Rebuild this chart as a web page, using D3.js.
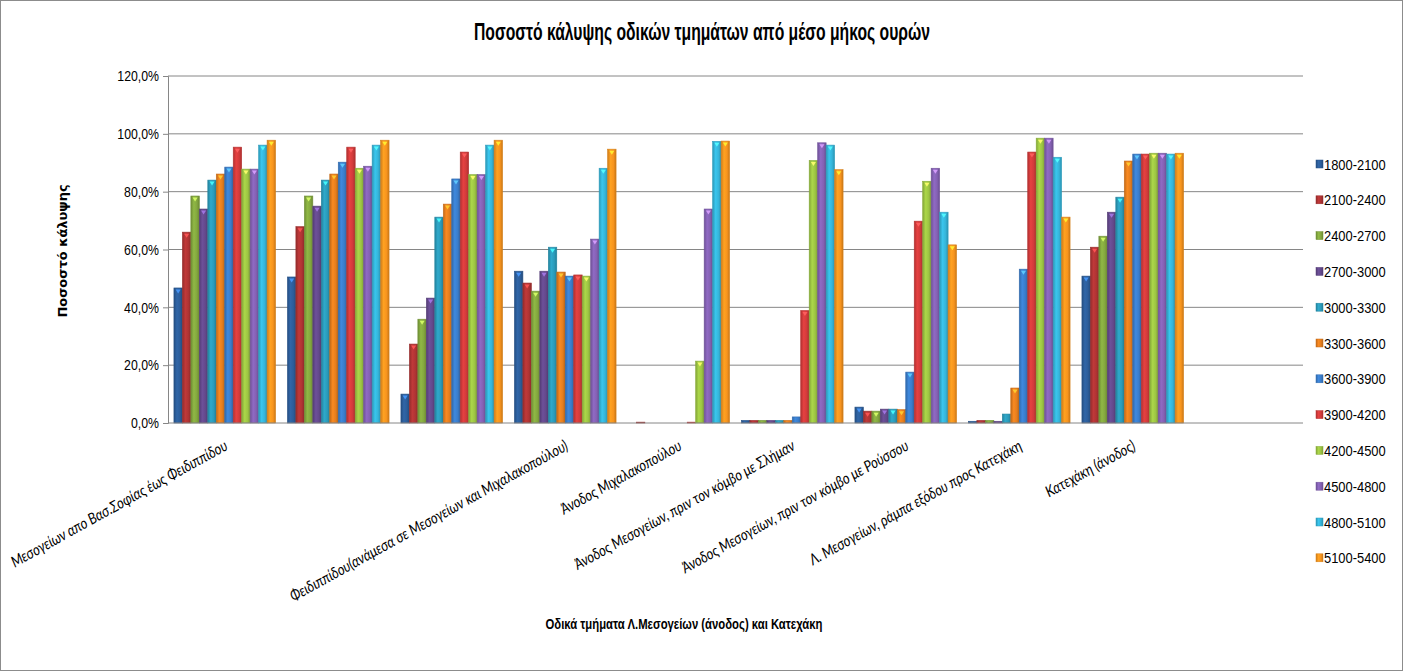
<!DOCTYPE html>
<html><head><meta charset="utf-8">
<script src="https://cdn.jsdelivr.net/npm/d3@7/dist/d3.min.js"></script>
<style>
body{margin:0;background:#fff;}
svg{display:block;}
.narrow{font-family:"Liberation Sans Narrow","Arial Narrow","Liberation Sans",Arial,sans-serif;}
</style></head><body>
<svg id="chart" width="1403" height="671"></svg>
<script>
const categories = [
  "Μεσογείων απο Βασ.Σοφίας έως Φειδιππίδου",
  "",
  "",
  "Φειδιππίδου(ανάμεσα σε Μεσογείων και Μιχαλακοπούλου)",
  "Άνοδος Μιχαλακοπούλου",
  "Άνοδος Μεσογείων, πριν τον κόμβο με Σλήμαν",
  "Άνοδος Μεσογείων, πριν τον κόμβο με Ρούσσου",
  "Λ. Μεσογείων, ράμπα εξόδου προς Κατεχάκη",
  "Κατεχάκη (άνοδος)",
  ""
];
const seriesNames = ["1800-2100","2100-2400","2400-2700","2700-3000","3000-3300","3300-3600","3600-3900","3900-4200","4200-4500","4500-4800","4800-5100","5100-5400"];
// values per category (percent), one entry per series
const v1 = [46.7,66.0,78.5,74.0,84.0,86.1,88.5,95.4,87.8,87.8,96.1,97.8];
const v2 = [50.5,67.9,78.5,75.0,84.0,86.1,90.2,95.4,88.1,88.8,96.1,97.8];
const v3 = [10.0,27.3,35.9,43.2,71.2,75.7,84.4,93.7,85.9,85.9,96.1,97.8];
const v4 = [52.5,48.4,45.6,52.5,60.8,52.2,50.8,51.2,50.8,63.6,88.1,94.7];
const v5 = [0,0.3,0,0,0,0,0,0.3,21.4,74.0,97.4,97.5];
const v6 = [0.9,0.9,0.9,0.9,0.9,0.9,2.1,38.9,90.8,96.9,96.1,87.6];
const v7 = [5.5,4.1,4.1,4.8,4.8,4.6,17.6,69.8,83.6,88.1,72.9,61.6];
const v8 = [0.6,0.9,0.9,0.6,3.1,12.1,53.2,93.7,98.5,98.5,91.9,71.2];
const v9 = [50.8,60.8,64.6,72.9,78.1,90.6,93.0,93.0,93.3,93.3,93.0,93.3];
const v10 = [];
const valuesByCategory = [v1,v2,v3,v4,v5,v6,v7,v8,v9,v10];
const yTicks = [0,20,40,60,80,100,120];
const colors = ["#2C5D9A","#B03434","#84A83F","#64498C","#2B9BBA","#E57E1E","#3A7DCB","#D23B3B","#9DC543","#8461B3","#35B5DA","#F7941E"];

const svg = d3.select("#chart");
const W = 1403, H = 671;
svg.append("rect").attr("x",0.5).attr("y",0.5).attr("width",W-1).attr("height",H-1)
  .attr("fill","#fff").attr("stroke","#8c8c8c").attr("stroke-width",1);

// condense helper: squeeze text horizontally by a factor
function condense(sel, f){
  sel.each(function(){
    const L = this.getComputedTextLength();
    d3.select(this).attr("textLength",L*f).attr("lengthAdjust","spacingAndGlyphs");
  });
}

const pLeft = 168, pRight = 1303, pTop = 76, pBottom = 423;
const x0 = d3.scaleBand().domain(d3.range(categories.length)).range([pLeft,pRight]).padding(0);
const bw = x0.bandwidth();
const barW = bw/13.4;
const x1 = d3.scaleBand().domain(seriesNames).range([0.7*barW, bw-0.7*barW]).padding(0);
const y = d3.scaleLinear().domain([0,120]).range([pBottom,pTop]);

// gradients
const defs = svg.append("defs");
colors.forEach((c,i)=>{
  const g = defs.append("linearGradient").attr("id","g"+i).attr("x1","0").attr("x2","1").attr("y1","0").attr("y2","0");
  const base = d3.color(c);
  g.append("stop").attr("offset","0").attr("stop-color",base.darker(0.5));
  g.append("stop").attr("offset","0.35").attr("stop-color",base.brighter(0.25));
  g.append("stop").attr("offset","0.7").attr("stop-color",base);
  g.append("stop").attr("offset","1").attr("stop-color",base.darker(0.6));
});

// gridlines
svg.append("g").selectAll("line").data(yTicks.filter(d=>d>0)).join("line")
  .attr("x1",pLeft).attr("x2",pRight).attr("y1",d=>y(d)).attr("y2",d=>y(d))
  .attr("stroke","#868686").attr("stroke-width",1);

// y axis
const yAxis = d3.axisLeft(y).tickValues(yTicks).tickSize(5).tickFormat(d=>d.toFixed(1).replace(".",",")+"%");
const ya = svg.append("g").attr("transform",`translate(${pLeft},0)`).call(yAxis);
ya.select(".domain").attr("stroke","#868686");
ya.selectAll(".tick line").attr("stroke","#868686");
ya.selectAll("text").attr("class","narrow").attr("font-size",15).attr("fill","#000").attr("x",-9).attr("font-family",null)
  .call(condense,0.82);

// bars
const groups = svg.append("g").selectAll("g").data(valuesByCategory).join("g")
  .attr("transform",(d,i)=>`translate(${x0(i)},0)`);
groups.selectAll("rect").data(d=>d.map((v,j)=>({v,j}))).join("rect")
  .attr("x",d=>x1(seriesNames[d.j])).attr("width",x1.bandwidth())
  .attr("y",d=>y(d.v)).attr("height",d=>pBottom-y(d.v))
  .attr("fill",d=>`url(#g${d.j})`)
  .attr("stroke",d=>d.v>0?d3.color(colors[d.j]).darker(0.4):"none").attr("stroke-width",0.6);
groups.selectAll("path").data(d=>d.map((v,j)=>({v,j})).filter(d=>d.v>4)).join("path")
  .attr("d",d=>{const xl=x1(seriesNames[d.j]), w=x1.bandwidth(), yt=y(d.v);
    return `M${xl+w*0.2},${yt+1.5}L${xl+w*0.8},${yt+1.5}L${xl+w*0.5},${yt+5.5}Z`;})
  .attr("fill",d=>d3.color(colors[d.j]).brighter(1.4)).attr("opacity",0.9);

// x axis line
svg.append("line").attr("x1",pLeft).attr("x2",pRight).attr("y1",pBottom).attr("y2",pBottom).attr("stroke","#868686");

// category labels
svg.append("g").selectAll("text").data(categories.map((c,i)=>({c,i})).filter(d=>d.c)).join("text")
  .attr("transform",d=>`translate(${x0(d.i)+bw/2+4},${449}) rotate(-29) scale(0.84,1)`)
  .attr("text-anchor","end")
  .attr("font-family","Lato, 'Open Sans', sans-serif").attr("font-style","italic").attr("font-size",15.5)
  .attr("fill","#000").text(d=>d.c);

// title
svg.append("text").attr("class","narrow").attr("x",702).attr("y",40).attr("text-anchor","middle")
  .attr("font-size",23).attr("font-weight","bold")
  .attr("textLength",456).attr("lengthAdjust","spacingAndGlyphs")
  .text("Ποσοστό κάλυψης οδικών τμημάτων από μέσο μήκος ουρών");
// axis titles
svg.append("text").attr("class","narrow").attr("x",684).attr("y",629).attr("text-anchor","middle")
  .attr("font-size",15).attr("font-weight","bold")
  .attr("textLength",277).attr("lengthAdjust","spacingAndGlyphs")
  .text("Οδικά τμήματα Λ.Μεσογείων (άνοδος) και Κατεχάκη");
svg.append("text").attr("transform","translate(67,251) rotate(-90)").attr("text-anchor","middle")
  .attr("font-family","'DejaVu Sans', Verdana, sans-serif").attr("font-size",13).attr("font-weight","bold")
  .text("Ποσοστό κάλυψης");

// legend
const lg = svg.append("g").selectAll("g").data(seriesNames).join("g")
  .attr("transform",(d,i)=>`translate(1316,${164+i*35.8})`);
lg.append("rect").attr("x",0).attr("y",-4).attr("width",7).attr("height",8)
  .attr("fill",(d,i)=>`url(#g${i})`).attr("stroke",(d,i)=>d3.color(colors[i]).darker(0.4)).attr("stroke-width",0.5);
lg.append("text").attr("class","narrow").attr("x",8).attr("y",5.5).attr("font-size",15).text(d=>d)
  .call(condense,0.86);
</script></body></html>
